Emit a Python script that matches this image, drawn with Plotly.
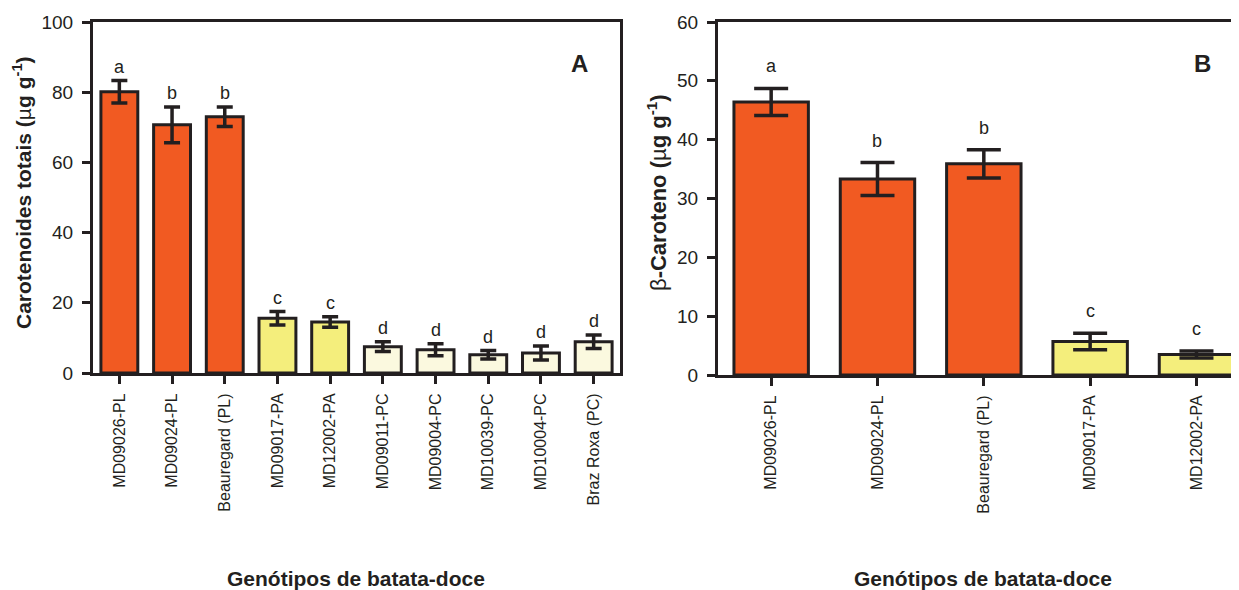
import plotly.graph_objects as go

# ---- data ----
genotypes_a = ["MD09026-PL", "MD09024-PL", "Beauregard (PL)", "MD09017-PA", "MD12002-PA",
               "MD09011-PC", "MD09004-PC", "MD10039-PC", "MD10004-PC", "Braz Roxa (PC)"]
total_carot = [80.1, 70.7, 73.0, 15.6, 14.5, 7.5, 6.6, 5.2, 5.7, 8.9]
total_err = [3.2, 5.1, 2.8, 1.9, 1.5, 1.4, 1.7, 1.2, 2.0, 1.9]
letters_a = ["a", "b", "b", "c", "c", "d", "d", "d", "d", "d"]
groups_a = ["PL", "PL", "PL", "PA", "PA", "PC", "PC", "PC", "PC", "PC"]

genotypes_b = ["MD09026-PL", "MD09024-PL", "Beauregard (PL)", "MD09017-PA", "MD12002-PA"]
beta_carot = [46.4, 33.3, 35.9, 5.7, 3.5]
beta_err = [2.3, 2.8, 2.4, 1.4, 0.6]
letters_b = ["a", "b", "b", "c", "c"]
groups_b = ["PL", "PL", "PL", "PA", "PA"]

group_colors = {"PL": "#F15A22", "PA": "#F4EE7C", "PC": "#FBF9DF"}
INK = "#231F20"
FONT = "Liberation Sans, Arial, sans-serif"

# page has an 8px body margin; figure sized to fill the rest of the window
W, H = 1231, 582
m_t, m_b = 14, 215
plot_h = H - m_t - m_b

fig = go.Figure()

fig.add_trace(go.Bar(
    x=genotypes_a, y=total_carot, width=0.7,
    marker=dict(color=[group_colors[g] for g in groups_a], line=dict(color=INK, width=3)),
    error_y=dict(type="data", array=total_err, visible=True, color=INK, thickness=3.5, width=8),
    xaxis="x", yaxis="y", showlegend=False, hoverinfo="x+y"))

fig.add_trace(go.Bar(
    x=genotypes_b, y=beta_carot, width=0.7,
    marker=dict(color=[group_colors[g] for g in groups_b], line=dict(color=INK, width=3)),
    error_y=dict(type="data", array=beta_err, visible=True, color=INK, thickness=3.5, width=17),
    xaxis="x2", yaxis="y2", showlegend=False, hoverinfo="x+y"))

letter_font = dict(size=18, color=INK, family=FONT)
xtitle_font = dict(size=21, color=INK, family=FONT)

annotations = []
for g, v, e, l in zip(genotypes_a, total_carot, total_err, letters_a):
    annotations.append(dict(x=g, y=v + e, xref="x", yref="y", text=l, showarrow=False,
                            yanchor="bottom", yshift=2, font=letter_font))
for g, v, e, l in zip(genotypes_b, beta_carot, beta_err, letters_b):
    annotations.append(dict(x=g, y=v + e, xref="x2", yref="y2", text=l, showarrow=False,
                            yanchor="bottom", yshift=10, font=letter_font))

# panel letters
annotations.append(dict(x=0.943, y=0.926, xref="x domain", yref="y domain", text="<b>A</b>",
                        showarrow=False, font=dict(size=24, color=INK, family=FONT)))
annotations.append(dict(x=0.950, y=0.926, xref="x2 domain", yref="y2 domain", text="<b>B</b>",
                        showarrow=False, font=dict(size=24, color=INK, family=FONT)))

# axis titles
x_title_y = (H - m_b - 570) / plot_h
y_title_y = (H - m_b - 185) / plot_h
annotations.append(dict(x=348 / W, y=x_title_y, xref="paper", yref="paper",
                        text="<b>Genótipos de batata-doce</b>", showarrow=False,
                        xanchor="center", yanchor="middle", font=xtitle_font))
annotations.append(dict(x=975 / W, y=x_title_y, xref="paper", yref="paper",
                        text="<b>Genótipos de batata-doce</b>", showarrow=False,
                        xanchor="center", yanchor="middle", font=xtitle_font))
annotations.append(dict(x=14 / W, y=y_title_y, xref="paper", yref="paper",
                        text="<b>Carotenoides totais (</b>µ<b>g g<sup>-1</sup>)</b>",
                        textangle=-90, showarrow=False, xanchor="center", yanchor="middle",
                        font=dict(size=21, color=INK, family=FONT)))
annotations.append(dict(x=649 / W, y=y_title_y, xref="paper", yref="paper",
                        text="β<b>-Caroteno (</b>µ<b>g g<sup>-1</sup>)</b>",
                        textangle=-90, showarrow=False, xanchor="center", yanchor="middle",
                        font=dict(size=22, color=INK, family=FONT)))

axis_common = dict(showline=True, linecolor=INK, linewidth=3, ticks="outside", tickcolor=INK,
                   tickwidth=3, ticklen=8, showgrid=False, zeroline=False)
xtick_font = dict(family=FONT, color=INK, size=16)
ytick_font = dict(family=FONT, color=INK, size=19)

fig.update_layout(
    width=W, height=H, paper_bgcolor="white", plot_bgcolor="white",
    margin=dict(l=0, r=0, t=m_t, b=m_b),
    font=dict(family=FONT, color=INK),
    xaxis=dict(**axis_common, domain=[85 / W, 612 / W], anchor="y", mirror=True,
               range=[-0.5, 9.5], tickangle=-90, tickfont=xtick_font, ticklabelstandoff=3),
    yaxis=dict(**axis_common, domain=[2 / plot_h, 1], anchor="x", mirror=True,
               range=[0, 100], dtick=20, tickfont=ytick_font, ticklabelstandoff=5),
    xaxis2=dict(**axis_common, domain=[710 / W, 1], anchor="y2", mirror=True,
                range=[-0.5, 4.4], tickangle=-90, tickfont=xtick_font, ticklabelstandoff=3),
    yaxis2=dict(**axis_common, domain=[0, 1], anchor="x2",
                range=[0, 60], dtick=10, tickfont=ytick_font, ticklabelstandoff=5),
    annotations=annotations,
)

fig.write_html("out.html")
